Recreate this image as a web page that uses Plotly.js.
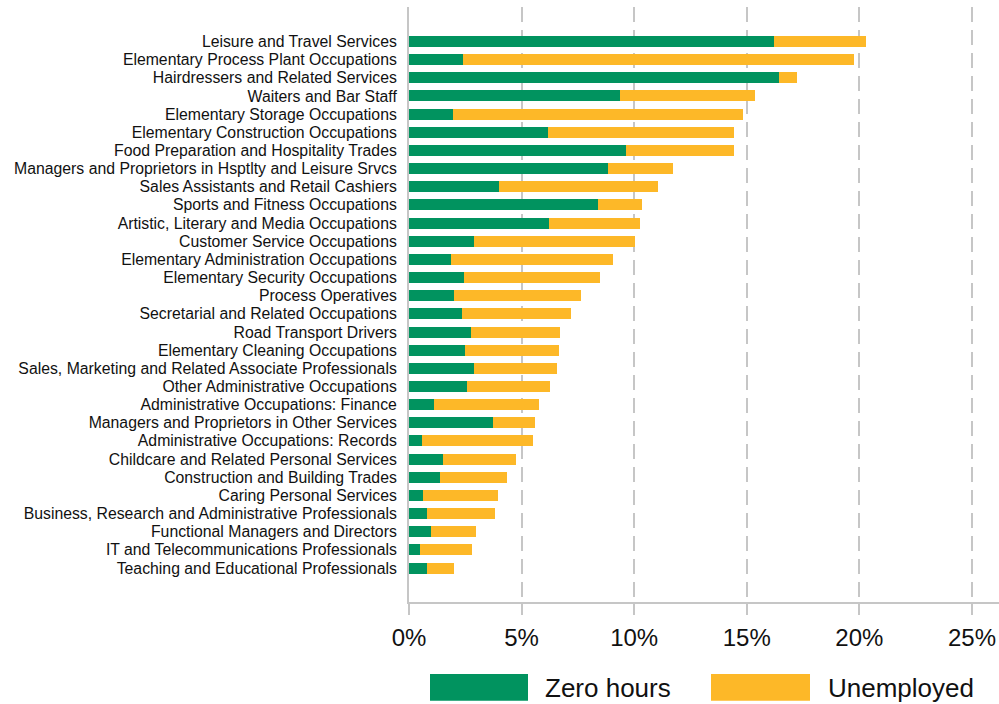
<!DOCTYPE html>
<html>
<head>
<meta charset="utf-8">
<script src="https://cdn.plot.ly/plotly-3.0.1.min.js"></script>
<style>html,body{margin:0;padding:0;background:#fff;}#chart{width:999px;height:704px;}</style>
</head>
<body>
<div id="chart"></div>
<script>
const categories = [
  "Leisure and Travel Services",
  "Elementary Process Plant Occupations",
  "Hairdressers and Related Services",
  "Waiters and Bar Staff",
  "Elementary Storage Occupations",
  "Elementary Construction Occupations",
  "Food Preparation and Hospitality Trades",
  "Managers and Proprietors in Hsptlty and Leisure Srvcs",
  "Sales Assistants and Retail Cashiers",
  "Sports and Fitness Occupations",
  "Artistic, Literary and Media Occupations",
  "Customer Service Occupations",
  "Elementary Administration Occupations",
  "Elementary Security Occupations",
  "Process Operatives",
  "Secretarial and Related Occupations",
  "Road Transport Drivers",
  "Elementary Cleaning Occupations",
  "Sales, Marketing and Related Associate Professionals",
  "Other Administrative Occupations",
  "Administrative Occupations: Finance",
  "Managers and Proprietors in Other Services",
  "Administrative Occupations: Records",
  "Childcare and Related Personal Services",
  "Construction and Building Trades",
  "Caring Personal Services",
  "Business, Research and Administrative Professionals",
  "Functional Managers and Directors",
  "IT and Telecommunications Professionals",
  "Teaching and Educational Professionals"
];
// percent values
const zeroHours = [16.21, 2.38, 16.44, 9.36, 1.95, 6.16, 9.63, 8.82, 3.98, 8.39,
                   6.21, 2.90, 1.85, 2.42, 1.98, 2.37, 2.74, 2.47, 2.87, 2.56,
                   1.13, 3.71, 0.56, 1.49, 1.36, 0.60, 0.78, 0.96, 0.47, 0.78];
const unemployed = [4.08, 17.39, 0.78, 6.01, 12.87, 8.26, 4.79, 2.89, 7.07, 1.94,
                    4.03, 7.12, 7.23, 6.04, 5.64, 4.84, 3.98, 4.21, 3.68, 3.68,
                    4.66, 1.87, 4.93, 3.25, 2.98, 3.34, 3.02, 2.00, 2.31, 1.24];
const seriesNames = ["Zero hours", "Unemployed"];
const tickVals = [0, 5, 10, 15, 20, 25];
const tickText = ["0%", "5%", "10%", "15%", "20%", "25%"];

const GREEN = "#01935F", ORANGE = "#FDB828", GRID = "#c6c6c6";
const W = 999, H = 704;
const M = {l: 409, r: 0, t: 7, b: 102};
const pw = W - M.l - M.r, ph = H - M.t - M.b;
const px2x = p => (p - M.l) / pw;
const px2y = p => (H - M.b - p) / ph;

const traces = [
  {type: "bar", orientation: "h", name: seriesNames[0], y: categories, x: zeroHours,
   marker: {color: GREEN}, showlegend: false, hoverinfo: "x+y"},
  {type: "bar", orientation: "h", name: seriesNames[1], y: categories, x: unemployed,
   marker: {color: ORANGE}, showlegend: false, hoverinfo: "x+y"}
];

const legendItems = [
  {name: seriesNames[0], color: GREEN, x0: 430, x1: 528, tx: 543},
  {name: seriesNames[1], color: ORANGE, x0: 711, x1: 810, tx: 826}
];
const shapes = legendItems.map(it => ({
  type: "rect", xref: "paper", yref: "paper",
  x0: px2x(it.x0), x1: px2x(it.x1), y0: px2y(674), y1: px2y(700.7),
  fillcolor: it.color, line: {width: 0}
}));
const annotations = legendItems.map(it => ({
  xref: "paper", yref: "paper", x: px2x(it.tx), y: px2y(687.5),
  xanchor: "left", yanchor: "middle", showarrow: false, text: it.name,
  font: {family: "Liberation Sans, Arial, sans-serif", size: 26, color: "#111"}
}));

const layout = {
  width: W, height: H,
  margin: M,
  barmode: "stack",
  bargap: 0.395,
  paper_bgcolor: "#fff", plot_bgcolor: "#fff",
  font: {family: "Liberation Sans, Arial, sans-serif", color: "#111"},
  showlegend: false,
  xaxis: {
    range: [0, 26.2], tickvals: tickVals, ticktext: tickText,
    showgrid: true, gridcolor: GRID, gridwidth: 2, griddash: "15px,8px",
    zeroline: false, showline: true, linecolor: GRID, linewidth: 2,
    ticks: "outside", ticklen: 11, tickwidth: 2, tickcolor: GRID,
    tickfont: {size: 24, color: "#111"}, ticklabelstandoff: 2
  },
  yaxis: {
    type: "category", range: [30.87, -1.9],
    tickmode: "array", tickvals: categories, ticktext: categories,
    showgrid: false, zeroline: false, showline: true, linecolor: GRID, linewidth: 2,
    ticks: "", tickfont: {size: 15.8, color: "#111"}, ticklabelstandoff: 7
  },
  shapes: shapes,
  annotations: annotations
};

Plotly.newPlot("chart", traces, layout, {staticPlot: true, displayModeBar: false});
</script>
</body>
</html>
